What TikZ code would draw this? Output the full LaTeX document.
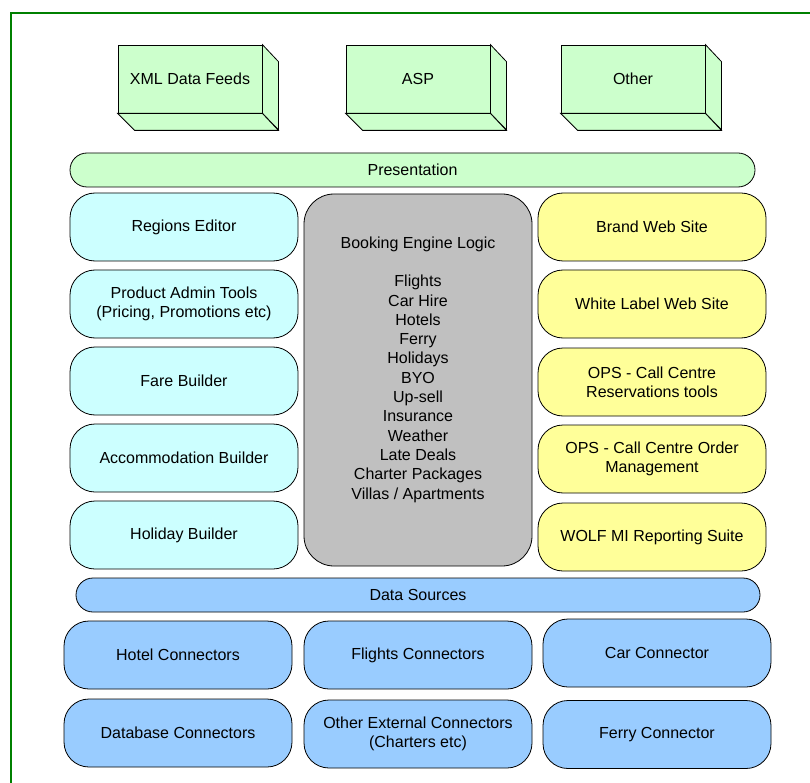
\documentclass[tikz,border=0pt]{standalone}
\usepackage{fontspec}
\setmainfont{Liberation Sans}
\usetikzlibrary{positioning}

\definecolor{framegreen}{RGB}{0,128,0}
\definecolor{feedgreen}{RGB}{204,255,204}
\definecolor{toolcyan}{RGB}{204,255,255}
\definecolor{siteyellow}{RGB}{255,255,153}
\definecolor{enginegray}{RGB}{192,192,192}
\definecolor{sourceblue}{RGB}{153,204,255}

\begin{document}
\begin{tikzpicture}[x=1pt,y=-1pt,
	box/.style={draw, line width=0.8pt, rounded corners=25pt, minimum width=228pt,
		minimum height=68pt, inner sep=0pt, align=center,
		font=\fontsize{16}{19.3}\selectfont},
	bar/.style={box, rounded corners=17pt, minimum height=34pt},
	feed/.style={draw, line width=0.8pt, fill=feedgreen, minimum width=144pt,
		minimum height=68pt, inner sep=0pt, font=\fontsize{16}{19.3}\selectfont}]
	\useasboundingbox (0,0) rectangle (810,783);
	
	% Rahmen
	\draw[framegreen, line width=2pt] (11,790) -- (11,13) -- (820,13);
	
	% Datenquellen oben (Quader)
	\foreach \name/\x/\txt in {xml/190/{XML Data Feeds}, asp/418/ASP, other/633/Other} {
		\node[feed] (\name) at (\x,79) {\txt};
		\filldraw[fill=feedgreen, line width=0.8pt] (\name.north east) -- ++(16,17) -- ++(0,68)
			-- (\name.south east) -- cycle;
		\filldraw[fill=feedgreen, line width=0.8pt] (\name.south west) -- ++(17,17)
			-- ([shift={(16,17)}]\name.south east) -- (\name.south east) -- cycle;
	}
	
	% Presentation
	\node[bar, fill=feedgreen, minimum width=685pt] (presentation) at (412.5,170) {Presentation};
	
	% linke Spalte
	\foreach \name/\y/\txt in {regions/227/{Regions Editor},
			admin/304/{Product Admin Tools\\(Pricing, Promotions etc)},
			fare/381/{Fare Builder}, accom/458/{Accommodation Builder},
			holiday/535/{Holiday Builder}} {
		\node[box, fill=toolcyan] (\name) at (184,\y) {\txt};
	}
	
	% Mitte
	\node[box, fill=enginegray, rounded corners=30pt, minimum height=372pt] (engine) at (418,380) {};
	\node[align=center, inner sep=0pt, font=\fontsize{16}{19.3}\selectfont] (logic) at (418,369.5)
		{Booking Engine Logic\\[19.3pt]Flights\\Car Hire\\Hotels\\Ferry\\Holidays\\BYO\\Up-sell\\
		Insurance\\Weather\\Late Deals\\Charter Packages\\Villas / Apartments};
	
	% rechte Spalte
	\foreach \name/\y/\txt in {brand/227/{Brand Web Site},
			white/304/{White Label Web Site},
			opsres/382/{OPS - Call Centre\\Reservations tools},
			opsorder/459/{OPS - Call Centre Order\\Management},
			wolf/537/{WOLF MI Reporting Suite}} {
		\node[box, fill=siteyellow] (\name) at (652,\y) {\txt};
	}
	
	% Data Sources
	\node[bar, fill=sourceblue, minimum width=684pt] (sources) at (418,595) {Data Sources};
	
	% Konnektoren
	\node[box, fill=sourceblue] (hotel) at (178,655) {Hotel Connectors};
	\node[box, fill=sourceblue] (flights) at (418,655) {Flights Connectors};
	\node[box, fill=sourceblue] (car) at (657,653) {Car Connector};
	\node[box, fill=sourceblue] (database) at (178,733) {Database Connectors};
	\node[box, fill=sourceblue] (external) at (418,734) {Other External Connectors\\(Charters etc)};
	\node[box, fill=sourceblue] (ferry) at (657,734.5) {Ferry Connector};
\end{tikzpicture}
\end{document}
